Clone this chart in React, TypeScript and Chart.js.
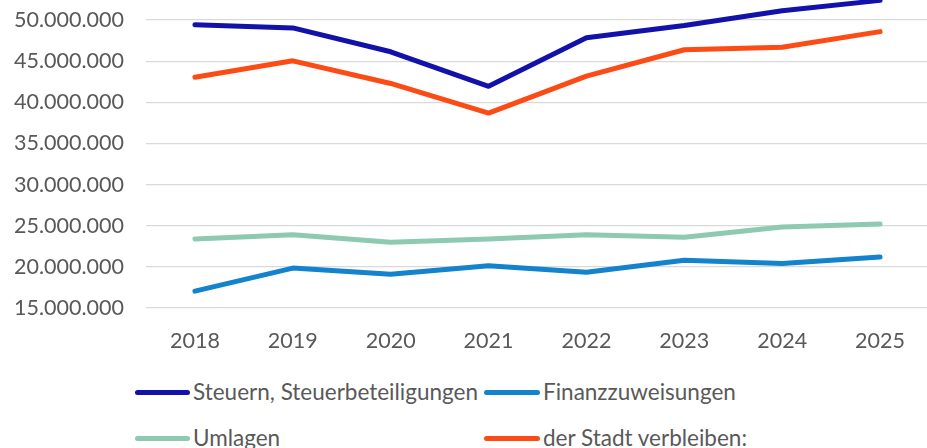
import React, { useEffect, useRef } from "react";
import { Chart, registerables } from "chart.js";

Chart.register(...registerables);

const years = ["2018", "2019", "2020", "2021", "2022", "2023", "2024", "2025"];
const steuern = [49.45, 49.05, 46.15, 41.95, 47.85, 49.35, 51.15, 52.4].map((v) => v * 1e6);
const finanzzuweisungen = [17.05, 19.85, 19.1, 20.15, 19.35, 20.8, 20.4, 21.2].map((v) => v * 1e6);
const umlagen = [23.4, 23.9, 23.0, 23.4, 23.9, 23.6, 24.85, 25.2].map((v) => v * 1e6);
const verbleiben = [43.05, 45.05, 42.3, 38.7, 43.2, 46.4, 46.7, 48.6].map((v) => v * 1e6);

const seriesNames = ["Steuern, Steuerbeteiligungen", "Finanzzuweisungen", "Umlagen", "der Stadt verbleiben:"];
const seriesColors = ["#1212AA", "#1383CD", "#8EC9B2", "#FC4B14"];

const FONT = "Lato, 'Open Sans', sans-serif";
const TEXT = "#595959";

function fmt(v: number): string {
  const s = Math.round(v).toString();
  return s.replace(/\B(?=(\d{3})+(?!\d))/g, ".");
}

export default function App() {
  const ref = useRef<HTMLCanvasElement | null>(null);
  useEffect(() => {
    document.body.style.margin = "0";
    const ctx = ref.current!;
    const data = [steuern, finanzzuweisungen, umlagen, verbleiben];
    const chart = new Chart(ctx, {
      type: "line",
      data: {
        labels: years,
        datasets: data.map((d, i) => ({
          label: seriesNames[i],
          data: d,
          borderColor: seriesColors[i],
          backgroundColor: seriesColors[i],
          borderWidth: 5,
          pointRadius: 0,
          borderCapStyle: "round",
          borderJoinStyle: "round",
          tension: 0,
        })),
      },
      options: {
        animation: false,
        responsive: false,
        maintainAspectRatio: false,
        layout: { padding: { top: 39, right: 11, left: 0, bottom: 0 } },
        plugins: { legend: { display: false }, tooltip: { enabled: false } },
        scales: {
          x: {
            offset: true,
            grid: { display: false, drawTicks: false },
            border: { display: false },
            ticks: { color: TEXT, font: { family: FONT, size: 21.5 }, padding: 20, maxRotation: 0 },
            afterFit: (s: any) => {
              s.height = 62;
            },
          },
          y: {
            min: 15000000,
            max: 55000000,
            grid: { color: "#D9D9D9", lineWidth: 1.3, drawTicks: false },
            border: { display: false },
            ticks: {
              stepSize: 5000000,
              color: TEXT,
              font: { family: FONT, size: 21.5 },
              padding: 22,
              callback: (v: any) => fmt(Number(v)),
            },
            afterFit: (s: any) => {
              s.width = 146;
            },
          },
        },
      },
    } as any);
    return () => chart.destroy();
  }, []);

  const legendItem = (i: number, lineLeft: number, lineW: number, textLeft: number, cy: number) => (
    <React.Fragment key={i}>
      <div
        style={{
          position: "absolute",
          left: lineLeft,
          top: cy - 2.5,
          width: lineW,
          height: 5,
          borderRadius: 3,
          background: seriesColors[i],
        }}
      />
      <div
        style={{
          position: "absolute",
          left: textLeft,
          top: cy - 14,
          height: 28,
          lineHeight: "28px",
          fontFamily: FONT,
          fontSize: 22.5,
          color: TEXT,
          whiteSpace: "nowrap",
        }}
      >
        {seriesNames[i]}
      </div>
    </React.Fragment>
  );

  return (
    <div style={{ position: "fixed", left: 0, top: 0, width: 927, height: 448, overflow: "hidden", background: "#fff" }}>
      <canvas ref={ref} width={940} height={430} style={{ position: "absolute", left: 0, top: -60, width: 940, height: 430 }} />
      {legendItem(0, 135, 55, 193, 392)}
      {legendItem(1, 484, 56, 543, 392)}
      {legendItem(2, 135, 55, 193, 438)}
      {legendItem(3, 484, 56, 543, 438)}
    </div>
  );
}
